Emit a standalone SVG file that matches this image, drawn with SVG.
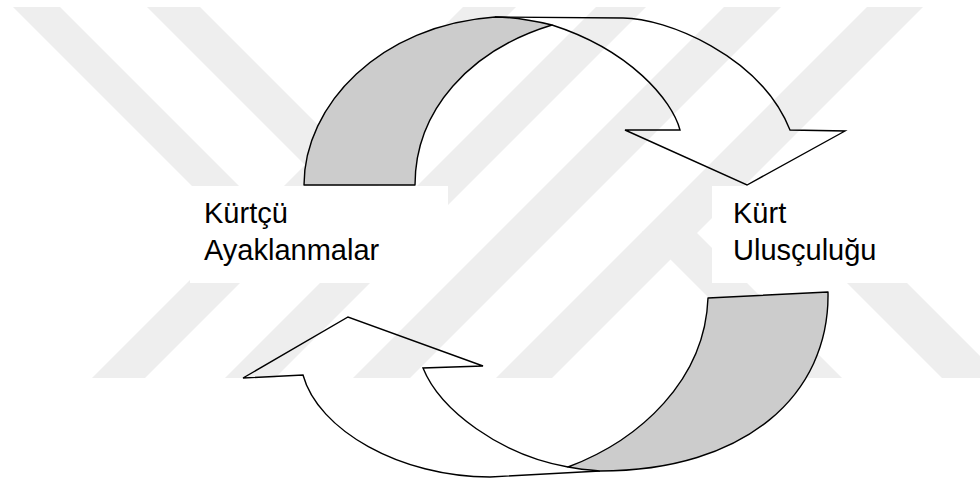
<svg xmlns="http://www.w3.org/2000/svg" width="980" height="482" viewBox="0 0 980 482">
  <style>
    .wm { fill: #eeeeee; stroke: none; }
    .box { fill: #ffffff; stroke: none; }
    .lbl { font-family: "Liberation Sans", Arial, sans-serif; font-size: 29px; fill: #000000; }
    .band { fill: #cccccc; stroke: #000000; stroke-width: 1.4; stroke-linejoin: round; }
    .ribbon { fill: none; stroke: #000000; stroke-width: 1.4; stroke-linejoin: miter; }
  </style>
  <rect x="0" y="0" width="980" height="482" fill="#ffffff"/>
  <g id="watermark">
    <polygon class="wm" points="13,7 60,7 285,232 238,232"/>
    <polygon class="wm" points="147,7 200,7 425,232 372,232"/>
    <polygon class="wm" points="463,7 516,7 145,378 92,378"/>
    <polygon class="wm" points="596,7 646,7 275,378 225,378"/>
    <polygon class="wm" points="724,7 781,7 410,378 353,378"/>
    <polygon class="wm" points="867,7 923,7 552,378 496,378"/>
    <polygon class="wm" points="642,231 695,231 842,378 789,378"/>
    <polygon class="wm" points="847,283 907,283 1002,378 942,378"/>
  </g>
  <g id="node-kurtcu-ayaklanmalar">
    <rect class="box" x="190" y="186" width="258" height="97"/>
    <text class="lbl" x="204" y="223">Kürtçü</text>
    <text class="lbl" x="204" y="260">Ayaklanmalar</text>
  </g>
  <g id="node-kurt-ulusculugu">
    <rect class="box" x="712" y="186" width="193" height="97"/>
    <text class="lbl" x="733" y="223">Kürt</text>
    <text class="lbl" x="733" y="260">Ulusçuluğu</text>
  </g>
  <g id="connectors">
    <g id="arrow-top">
      <path class="ribbon" d="M495,17 L623,18 C665,18 760,55 790,130 L845,131 L747,185 L625,130 L680,130 C672,100 630,50 552,25"/>
      <path class="band" d="M304,185 C304,105 380,25 495,17 C515,17 535,21 552,25 C470,50 415,110 415,185 Z"/>
    </g>
    <g id="arrow-bottom">
      <path class="ribbon" d="M568,467 C500,455 440,410 423,368 L483,366 L348,317 L243,378 L303,375 C318,430 400,477 490,477 L600,471"/>
      <path class="band" d="M708,298 L828,292 C830,395 745,471 600,471 C588,470 578,469 568,467 C640,440 705,380 708,298 Z"/>
    </g>
  </g>
</svg>
